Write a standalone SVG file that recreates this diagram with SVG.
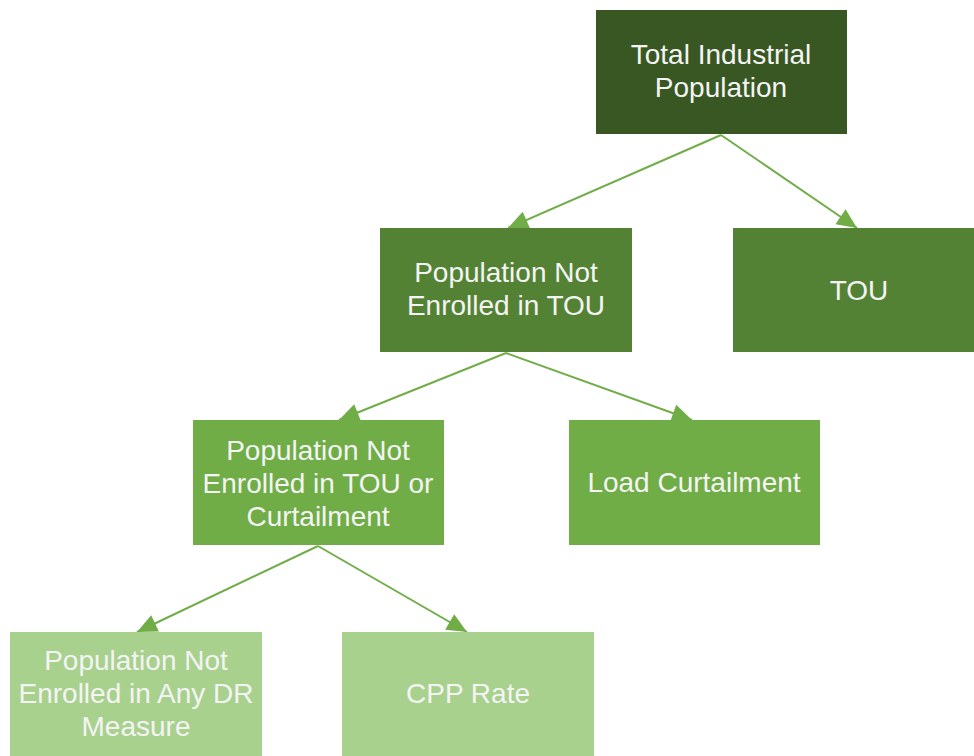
<svg xmlns="http://www.w3.org/2000/svg" width="974" height="756" viewBox="0 0 974 756">
<style>
.t{font-family:"Liberation Sans",Arial,sans-serif;font-size:28px;fill:#F4F4F4;text-anchor:middle}
.c{stroke:#70AD47;stroke-width:2;fill:none;marker-end:url(#ah)}
</style>
<defs>
<marker id="ah" markerUnits="userSpaceOnUse" markerWidth="22" markerHeight="20" viewBox="0 0 22 20" refX="21" refY="10" orient="auto">
<path d="M1,1 L21,10 L1,19 Z" fill="#70AD47"/>
</marker>
</defs>
<rect width="974" height="756" fill="#FFFFFF"/>
<g id="connectors">
<path class="c" d="M721,135 L508,228"/>
<path class="c" d="M721,135 L857,228"/>
<path class="c" d="M506,353 L339,420"/>
<path class="c" d="M506,353 L692,420"/>
<path class="c" d="M318,546 L137,632"/>
<path class="c" d="M318,546 L467,632"/>
</g>
<g id="total">
<rect x="596" y="10" width="251" height="124" fill="#385723"/>
<text class="t" x="721" y="64">Total Industrial</text>
<text class="t" x="721" y="97">Population</text>
</g>
<g id="notTOU">
<rect x="380" y="228" width="252" height="124" fill="#548235"/>
<text class="t" x="506" y="282">Population Not</text>
<text class="t" x="506" y="315">Enrolled in TOU</text>
</g>
<g id="tou">
<rect x="733" y="228" width="251" height="124" fill="#548235"/>
<text class="t" x="859" y="300">TOU</text>
</g>
<g id="notTOUCurt">
<rect x="193" y="420" width="251" height="125" fill="#70AD47"/>
<text class="t" x="318" y="460">Population Not</text>
<text class="t" x="318" y="493">Enrolled in TOU or</text>
<text class="t" x="318" y="526">Curtailment</text>
</g>
<g id="load">
<rect x="569" y="420" width="251" height="125" fill="#70AD47"/>
<text class="t" x="694" y="492">Load Curtailment</text>
</g>
<g id="notDR">
<rect x="10" y="632" width="252" height="124" fill="#A9D18E"/>
<text class="t" x="136" y="670">Population Not</text>
<text class="t" x="136" y="703">Enrolled in Any DR</text>
<text class="t" x="136" y="736">Measure</text>
</g>
<g id="cpp">
<rect x="342" y="632" width="252" height="124" fill="#A9D18E"/>
<text class="t" x="468" y="703">CPP Rate</text>
</g>
</svg>
